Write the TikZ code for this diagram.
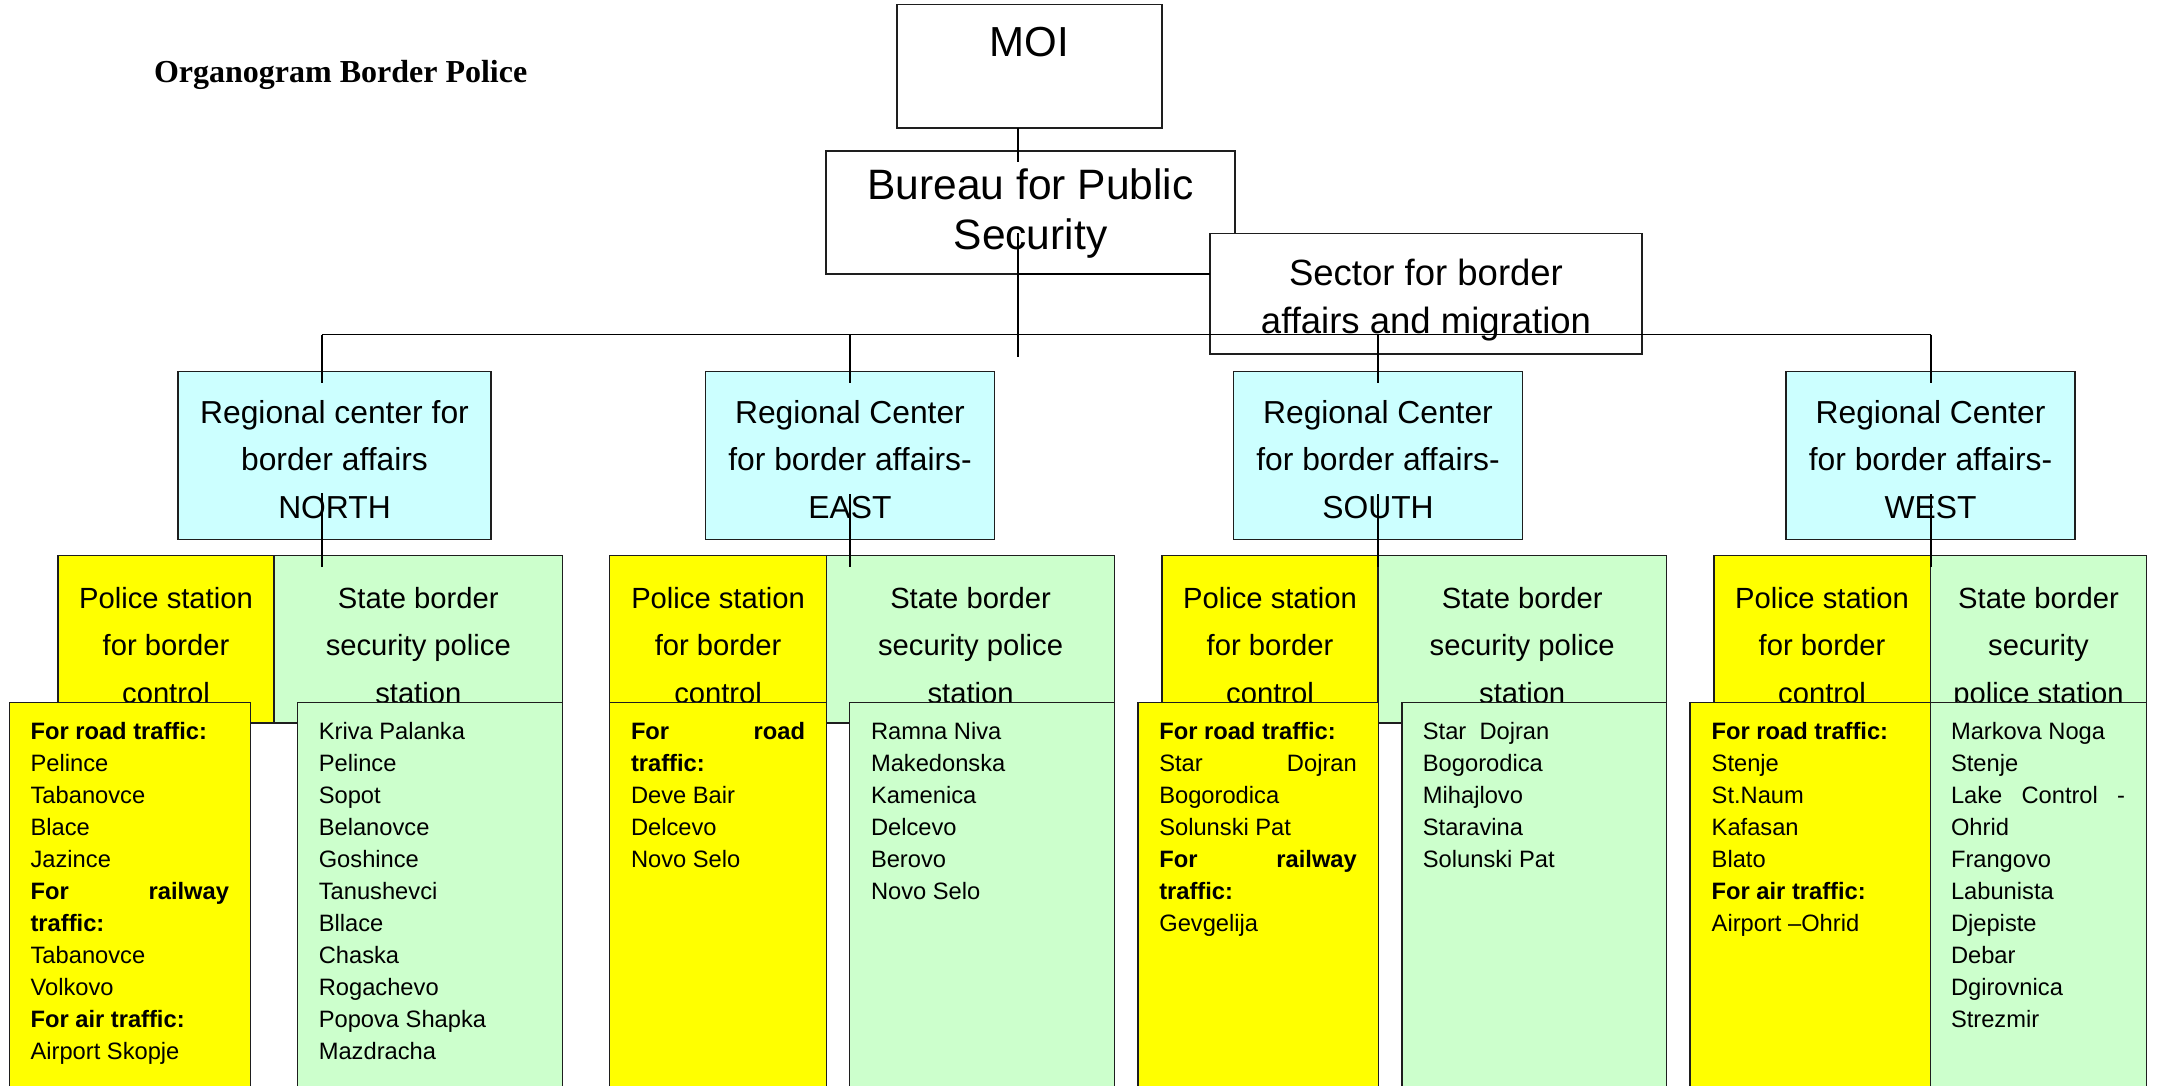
\documentclass[tikz,border=0pt]{standalone}
\usepackage{fontspec}
\setmainfont{Liberation Sans}
\newfontfamily\titlefont{Liberation Serif}
\definecolor{cyanfill}{HTML}{CCFFFF}
\definecolor{greenfill}{HTML}{CCFFCC}
\definecolor{yellowfill}{HTML}{FFFF00}
\definecolor{boxline}{HTML}{1E1E1E}
\tikzset{
  frame/.style={draw=boxline, line width=1.4pt, inner sep=0pt, outer sep=0pt, anchor=north west},
  link/.style={draw=black, line width=1.8pt},
  txt/.style={inner sep=0pt, outer sep=0pt, anchor=base},
  listtxt/.style={inner sep=0pt, outer sep=0pt, anchor=base west},
}
% centred block of lines: width, font size, line pitch, text
\newcommand{\centredlines}[4]{\parbox[t]{#1pt}{\centering\fontsize{#2}{#3}\selectfont #4}}
% left-aligned list: width, text
\newcommand{\listlines}[2]{\parbox[t]{#1pt}{\fontsize{23.7}{32}\selectfont #2}}
% a justified line spread over the full width
\newcommand{\spreadline}[1]{\leavevmode\hbox to \linewidth{#1}}
\begin{document}
\begin{tikzpicture}[x=1pt,y=-1pt]
\clip (0,0) rectangle (2161,1086);
\fill[white] (0,0) rectangle (2161,1086);

% title
\node[listtxt] (title) at (154,83) {\titlefont\bfseries\fontsize{32}{38}\selectfont Organogram Border Police};

% top of the hierarchy
\node[frame, fill=white, minimum width=265pt, minimum height=123.3pt] (moi) at (897,4.7) {};
\node[txt] (tmoi) at (1029.5,57) {\fontsize{42}{50}\selectfont MOI};
\node[frame, fill=white, minimum width=409pt, minimum height=123pt] (bureau) at (826,151) {};
\node[txt] (tbureau) at (1030.5,200) {\centredlines{409}{42.5}{50}{Bureau for Public\\Security}};
\node[frame, fill=white, minimum width=432pt, minimum height=120.5pt] (sector) at (1210,233.5) {};
\node[txt] (tsector) at (1426,285) {\centredlines{432}{36.5}{48}{Sector for border\\affairs and migration}};

% regional centres
\node[frame, fill=cyanfill, minimum width=313pt, minimum height=168pt] (rn) at (178,371.7) {};
\node[txt] (trn) at (334.5,423) {\centredlines{313}{31.8}{47.5}{Regional center for\\border affairs\\NORTH}};
\node[frame, fill=cyanfill, minimum width=288.6pt, minimum height=168pt] (re) at (705.7,371.7) {};
\node[txt] (tre) at (850,423) {\centredlines{288}{31.8}{47.5}{Regional Center\\for border affairs-\\EAST}};
\node[frame, fill=cyanfill, minimum width=289pt, minimum height=168pt] (rs) at (1233.6,371.7) {};
\node[txt] (trs) at (1378,423) {\centredlines{289}{31.8}{47.5}{Regional Center\\for border affairs-\\SOUTH}};
\node[frame, fill=cyanfill, minimum width=289pt, minimum height=168pt] (rw) at (1786,371.7) {};
\node[txt] (trw) at (1930.5,423) {\centredlines{289}{31.8}{47.5}{Regional Center\\for border affairs-\\WEST}};

% station headers
\node[frame, fill=yellowfill, minimum width=216.1pt, minimum height=167.6pt] (pn) at (57.9,555.4) {};
\node[frame, fill=greenfill, minimum width=288.6pt, minimum height=167.6pt] (sn) at (274,555.4) {};
\node[txt] (tpn) at (166,608) {\centredlines{216}{29.2}{47.5}{Police station\\for border\\control}};
\node[txt] (tsn) at (418.3,608) {\centredlines{288}{29.2}{47.5}{State border\\security police\\station}};

\node[frame, fill=yellowfill, minimum width=217pt, minimum height=167.6pt] (pe) at (609.6,555.4) {};
\node[frame, fill=greenfill, minimum width=288pt, minimum height=167.6pt] (se) at (826.6,555.4) {};
\node[txt] (tpe) at (718.1,608) {\centredlines{216}{29.2}{47.5}{Police station\\for border\\control}};
\node[txt] (tse) at (970.6,608) {\centredlines{288}{29.2}{47.5}{State border\\security police\\station}};

\node[frame, fill=yellowfill, minimum width=216pt, minimum height=167.6pt] (ps) at (1162,555.4) {};
\node[frame, fill=greenfill, minimum width=288.4pt, minimum height=167.6pt] (ss) at (1378,555.4) {};
\node[txt] (tps) at (1270,608) {\centredlines{216}{29.2}{47.5}{Police station\\for border\\control}};
\node[txt] (tss) at (1522.2,608) {\centredlines{288}{29.2}{47.5}{State border\\security police\\station}};

\node[frame, fill=yellowfill, minimum width=216.5pt, minimum height=167.6pt] (pw) at (1714,555.4) {};
\node[frame, fill=greenfill, minimum width=216pt, minimum height=167.6pt] (sw) at (1930.5,555.4) {};
\node[txt] (tpw) at (1822,608) {\centredlines{216}{29.2}{47.5}{Police station\\for border\\control}};
\node[txt] (tsw) at (2038.5,608) {\centredlines{216}{29.2}{47.5}{State border\\security\\police station}};

% crossing lists
\node[frame, fill=yellowfill, minimum width=241.1pt, minimum height=400pt] (yln) at (9.6,702.7) {};
\node[listtxt] (tyln) at (30.6,739.5) {\listlines{198.4}{\textbf{For road traffic:}\\Pelince\\Tabanovce\\Blace\\Jazince\\\spreadline{\bfseries For\hfill railway}\\\textbf{traffic:}\\Tabanovce\\Volkovo\\\textbf{For air traffic:}\\Airport Skopje}};
\node[frame, fill=greenfill, minimum width=264.9pt, minimum height=400pt] (gln) at (297.7,702.7) {};
\node[listtxt] (tgln) at (318.8,739.5) {\listlines{220}{Kriva Palanka\\Pelince\\Sopot\\Belanovce\\Goshince\\Tanushevci\\Bllace\\Chaska\\Rogachevo\\Popova Shapka\\Mazdracha}};

\node[frame, fill=yellowfill, minimum width=217pt, minimum height=400pt] (yle) at (609.6,702.7) {};
\node[listtxt] (tyle) at (631,739.5) {\listlines{174}{\spreadline{\bfseries For\hfill road}\\\textbf{traffic:}\\Deve Bair\\Delcevo\\Novo Selo}};
\node[frame, fill=greenfill, minimum width=265pt, minimum height=400pt] (gle) at (849.6,702.7) {};
\node[listtxt] (tgle) at (871,739.5) {\listlines{220}{Ramna Niva\\Makedonska\\Kamenica\\Delcevo\\Berovo\\Novo Selo}};

\node[frame, fill=yellowfill, minimum width=240.2pt, minimum height=400pt] (yls) at (1138,702.7) {};
\node[listtxt] (tyls) at (1159.3,739.5) {\listlines{197.5}{\textbf{For road traffic:}\\\spreadline{Star\hfill Dojran}\\Bogorodica\\Solunski Pat\\\spreadline{\bfseries For\hfill railway}\\\textbf{traffic:}\\Gevgelija}};
\node[frame, fill=greenfill, minimum width=264.4pt, minimum height=400pt] (gls) at (1402,702.7) {};
\node[listtxt] (tgls) at (1422.9,739.5) {\listlines{220}{Star\ \ Dojran\\Bogorodica\\Mihajlovo\\Staravina\\Solunski Pat}};

\node[frame, fill=yellowfill, minimum width=240.5pt, minimum height=400pt] (ylw) at (1690,702.7) {};
\node[listtxt] (tylw) at (1711.7,739.5) {\listlines{198}{\textbf{For road traffic:}\\Stenje\\St.Naum\\Kafasan\\Blato\\\textbf{For air traffic:}\\Airport \textendash Ohrid}};
\node[frame, fill=greenfill, minimum width=216pt, minimum height=400pt] (glw) at (1930.5,702.7) {};
\node[listtxt] (tglw) at (1951,739.5) {\listlines{174}{Markova Noga\\Stenje\\\spreadline{Lake\hfill Control\hfill -}\\Ohrid\\Frangovo\\Labunista\\Djepiste\\Debar\\Dgirovnica\\Strezmir}};

% connectors
\coordinate (moiend) at (1018,162);
\coordinate (trunktop) at (1018,233);
\coordinate (trunkend) at (1018,357);
\coordinate (busy) at (0,334.5);
\coordinate (dn) at (322,383);
\coordinate (de) at (850,383);
\coordinate (ds) at (1378,383);
\coordinate (dw) at (1931,383);
\coordinate (in1) at (322,493);   \coordinate (in2) at (322,567);
\coordinate (ie1) at (850,494);   \coordinate (ie2) at (850,567);
\coordinate (is1) at (1378,494);  \coordinate (is2) at (1378,567);
\coordinate (iw1) at (1931,494);  \coordinate (iw2) at (1931,567);

\draw[link] (moiend |- moi.south) -- (moiend);
\draw[link] (trunktop) -- (trunkend);
\draw[link] (trunktop |- bureau.south) -- (bureau.south -| sector.west);
\draw[link] (dn |- busy) -- (dw |- busy);
\draw[link] (dn |- busy) -- (dn);
\draw[link] (de |- busy) -- (de);
\draw[link] (ds |- busy) -- (ds);
\draw[link] (dw |- busy) -- (dw);
\draw[link] (in1) -- (in2);
\draw[link] (ie1) -- (ie2);
\draw[link] (is1) -- (is2);
\draw[link] (iw1) -- (iw2);
\end{tikzpicture}
\end{document}
